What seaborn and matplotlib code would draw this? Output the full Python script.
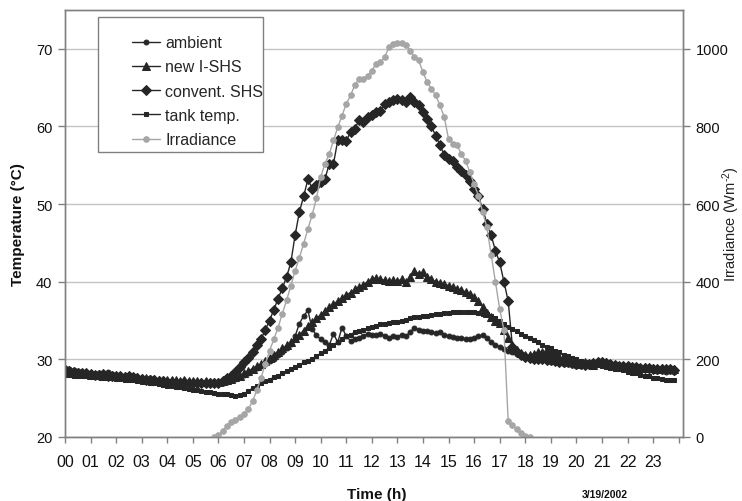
import numpy as np
import matplotlib
matplotlib.use("Agg")
import matplotlib.pyplot as plt
import seaborn as sns
from matplotlib.patches import Rectangle

nan = np.nan

# 10-minute time base (hours)
hours = np.arange(144) / 6.0

hour_labels = [f"{h:02d}" for h in range(24)]

ambient = [
    28.9, 28.8, 28.6, 28.5, 28.4, 28.3,
    28.2, 28.1, 28.2, 28.0, 28.4, 28.1,
    27.9, 27.9, 27.8, 27.9, 27.8, 27.7,
    27.6, 27.5, 27.6, 27.4, 27.3, 27.3,
    27.2, 27.2, 27.1, 27.1, 27.1, 27.0,
    27.0, 27.0, 26.9, 27.0, 26.9, 26.9,
    26.9, 27.0, 27.1, 27.3, 27.5, 27.7,
    28.0, 28.3, 28.6, 28.9, 29.2, 29.5,
    29.8, 30.1, 30.5, 30.9, 31.4, 32.0,
    33.0, 34.6, 35.6, 36.3, 33.9, 33.1,
    32.6, 32.2, 31.8, 33.3, 32.2, 34.1,
    33.0, 32.4, 32.6, 32.8, 33.0, 33.3,
    33.2, 33.1, 33.3, 33.0, 32.8, 33.0,
    32.9, 33.2, 33.0, 33.5, 34.1, 33.8,
    33.7, 33.6, 33.5, 33.4, 33.5, 33.2,
    33.0, 32.9, 32.7, 32.8, 32.6, 32.6,
    32.8, 33.0, 33.1, 32.7, 32.2, 31.9,
    31.6, 31.3, 31.1, 30.9, 30.7, 30.5,
    30.4, 30.2, 30.0, 29.9, 29.9, 29.8,
    29.7, 29.6, 29.5, 29.4, 29.4, 29.3,
    29.2, 29.2, 29.1, 29.2, 29.3, 29.4,
    29.5, 29.4, 29.3, 29.2, 29.0, 28.9,
    28.9, 28.8, 28.8, 28.7, 28.7, 28.6,
    28.6, 28.5, 28.5, 28.4, 28.5, 28.4,
]

new_ishs = [
    28.4, 28.3, 28.3, 28.2, 28.2, 28.1,
    28.0, 28.0, 28.1, 27.9, 28.0, 27.9,
    27.9, 27.8, 27.8, 27.9, 27.7, 27.7,
    27.6, 27.6, 27.5, 27.5, 27.4, 27.4,
    27.3, 27.3, 27.3, 27.2, 27.3, 27.2,
    27.2, 27.2, 27.1, 27.2, 27.1, 27.1,
    27.1, 27.2, 27.3, 27.5, 27.7, 27.9,
    28.2, 28.5, 28.8, 29.1, 29.4, 29.8,
    30.2, 30.6, 31.0, 31.4, 31.8, 32.3,
    32.7, 33.2, 33.7, 34.3, 34.8, 35.3,
    35.7, 36.2, 36.7, 37.1, 37.5, 37.9,
    38.3, 38.6, 39.0, 39.3, 39.6, 40.0,
    40.3, 40.5, 40.3, 40.2, 40.1, 40.2,
    40.1, 40.3, 40.0, 40.6, 41.4, 41.0,
    41.2, 40.6, 40.3, 40.0, 39.9, 39.7,
    39.5, 39.3, 39.1, 38.9, 38.7, 38.4,
    38.0, 37.5, 36.8, 36.0, 35.4, 35.0,
    34.7, 33.8, 32.8, 31.8, 31.2, 30.8,
    30.6, 30.5, 30.7, 30.9, 31.0, 31.1,
    30.9, 30.6, 30.3, 30.0, 29.8, 29.6,
    29.5, 29.4, 29.6, 29.4, 29.3, 29.5,
    29.7, 29.6, 29.4, 29.3, 29.2, 29.2,
    29.1, 29.0, 29.0, 28.9, 29.0, 28.9,
    28.9, 28.8, 28.9, 28.8, 28.7, 28.7,
]

convent_shs = [
    28.6, 28.5, 28.4, 28.3, 28.2, 28.2,
    28.1, 28.0, 28.0, 28.1, 27.9, 27.9,
    27.8, 27.8, 27.7, 27.9, 27.7, 27.6,
    27.5, 27.4, 27.4, 27.3, 27.2, 27.2,
    27.1, 27.1, 27.0, 27.0, 27.1, 27.0,
    26.9, 26.9, 27.0, 26.9, 27.0, 26.9,
    27.0, 27.2, 27.6, 27.9, 28.4, 29.0,
    29.6, 30.2, 30.9, 31.8, 32.6, 33.8,
    35.0, 36.4, 37.8, 39.2, 40.6, 42.5,
    46.0, 49.0, 51.0, 53.2, 52.0, 52.4,
    52.8, 53.2, 55.2, 55.2, 58.2, 58.2,
    58.1, 59.3, 59.7, 60.8, 60.6, 61.2,
    61.5, 61.8, 62.0, 62.9, 63.2, 63.4,
    63.6, 63.4, 63.1, 63.8, 63.2, 62.8,
    61.9, 61.0, 60.0, 58.8, 57.6, 56.3,
    55.8, 55.5, 54.8, 54.2, 53.7, 53.0,
    52.0, 51.0, 49.4, 47.5, 46.0, 44.0,
    42.5, 40.0, 37.5, 31.6, 31.0, 30.6,
    30.3, 30.2, 30.1, 30.0, 30.0, 29.9,
    29.9, 29.8, 29.7, 29.6, 29.6, 29.5,
    29.4, 29.4, 29.3, 29.4, 29.5, 29.6,
    29.6, 29.5, 29.4, 29.3, 29.2, 29.1,
    29.1, 29.0, 29.0, 28.9, 28.9, 28.9,
    28.8, 28.8, 28.7, 28.7, 28.7, 28.6,
]

tank_temp = [
    28.0, 28.0, 27.9, 27.9, 27.9, 27.8,
    27.8, 27.8, 27.7, 27.7, 27.6, 27.6,
    27.5, 27.5, 27.4, 27.4, 27.3, 27.2,
    27.1, 27.1, 27.0, 26.9, 26.8, 26.7,
    26.6, 26.6, 26.5, 26.4, 26.3, 26.2,
    26.1, 26.0, 25.9, 25.8, 25.8, 25.7,
    25.6, 25.5, 25.5, 25.4, 25.3, 25.4,
    25.6, 25.9, 26.3, 26.6, 26.9, 27.2,
    27.4, 27.7, 27.9, 28.2, 28.5, 28.8,
    29.0, 29.3, 29.6, 29.8, 30.1, 30.4,
    30.8, 31.1, 31.5, 31.8, 32.2, 32.6,
    33.0, 33.2, 33.5, 33.7, 33.8, 34.0,
    34.2, 34.3, 34.5, 34.6, 34.7, 34.8,
    34.8, 34.9, 35.1, 35.3, 35.5, 35.5,
    35.6, 35.6, 35.7, 35.8, 35.9, 36.0,
    36.0, 36.1, 36.1, 36.1, 36.1, 36.1,
    36.1, 36.0, 35.9, 35.8, 35.6, 35.3,
    35.0, 34.6, 34.2, 33.9, 33.6, 33.3,
    33.0, 32.8, 32.5, 32.2, 31.9, 31.6,
    31.4, 31.1, 30.9, 30.6, 30.4, 30.2,
    30.0, 29.8, 29.6, 29.5, 29.4, 29.3,
    29.1, 29.0, 28.9, 28.8, 28.7, 28.6,
    28.4, 28.3, 28.2, 28.0, 27.9, 27.8,
    27.6, 27.6, 27.5, 27.4, 27.3, 27.3,
]

irradiance = [
    nan, nan, nan, nan, nan, nan,
    nan, nan, nan, nan, nan, nan,
    nan, nan, nan, nan, nan, nan,
    nan, nan, nan, nan, nan, nan,
    nan, nan, nan, nan, nan, nan,
    nan, nan, nan, nan, nan, 0,
    5, 15, 28, 38, 45, 52,
    60, 72, 92, 120, 152, 188,
    222, 252, 282, 318, 352, 390,
    428, 462, 498, 536, 572, 615,
    670, 704, 729, 764, 798, 828,
    858, 880, 906, 923, 923, 931,
    944, 961, 966, 978, 1004, 1013,
    1015, 1015, 1010, 995, 978, 970,
    940, 914, 897, 880, 854, 824,
    768, 755, 752, 729, 712, 682,
    652, 622, 580, 540, 470, 400,
    330, 275, 40, 30, 20, 10,
    3, 0, nan, nan, nan, nan,
    nan, nan, nan, nan, nan, nan,
    nan, nan, nan, nan, nan, nan,
    nan, nan, nan, nan, nan, nan,
    nan, nan, nan, nan, nan, nan,
    nan, nan, nan, nan, nan, nan,
]

temp_ticks = [20, 30, 40, 50, 60, 70]
irr_ticks = [0, 200, 400, 600, 800, 1000]

sns.set_style("white")
plt.rcParams['font.family'] = ['Liberation Sans', 'DejaVu Sans']
plt.rcParams['mathtext.default'] = 'regular'

DARK = '#262626'
GRAY = '#a6a6a6'
FRAME = '#808080'

fig = plt.figure(figsize=(7.42, 5.02), dpi=100)
ax = fig.add_axes([65 / 742, 1 - 438 / 502, 618 / 742, 427 / 502])
ax2 = ax.twinx()

sns.lineplot(x=hours, y=ambient, ax=ax, color=DARK, linewidth=1.0, marker='o',
             markersize=3.5, markeredgecolor=DARK, markerfacecolor=DARK,
             label='ambient', legend=False)
sns.lineplot(x=hours, y=new_ishs, ax=ax, color=DARK, linewidth=1.0, marker='^',
             markersize=6, markeredgecolor=DARK, markerfacecolor=DARK,
             label='new I-SHS', legend=False)
sns.lineplot(x=hours, y=convent_shs, ax=ax, color=DARK, linewidth=1.0, marker='D',
             markersize=5, markeredgecolor=DARK, markerfacecolor=DARK,
             label='convent. SHS', legend=False)
sns.lineplot(x=hours, y=tank_temp, ax=ax, color=DARK, linewidth=1.0, marker='s',
             markersize=2.5, markeredgecolor=DARK, markerfacecolor=DARK,
             label='tank temp.', legend=False)
sns.lineplot(x=hours, y=irradiance, ax=ax2, color=GRAY, linewidth=1.0, marker='o',
             markersize=4, markeredgecolor=GRAY, markerfacecolor=GRAY,
             label='Irradiance', legend=False)

ax.set_xlim(0, 24.17)
ax.set_ylim(20, 75)
ax2.set_ylim(0, 1100)

ax.set_xticks(range(25))
ax.set_xticklabels(hour_labels + [''])
ax.set_yticks(temp_ticks)
ax2.set_yticks(irr_ticks)

ax.grid(axis='y', color='#c4c4c4', linewidth=1.0)
ax.grid(axis='x', visible=False)
ax2.grid(False)

for a in (ax, ax2):
    for s in a.spines.values():
        s.set_color(FRAME)
        s.set_linewidth(1.0)

ax.tick_params(axis='x', bottom=True, direction='out', length=4, width=1,
               color=FRAME, labelsize=11.5, pad=8, labelcolor='#111111')
ax.tick_params(axis='y', left=True, direction='out', length=5, width=1,
               color=FRAME, labelsize=10.5, pad=4, labelcolor='#111111')
ax2.tick_params(axis='y', right=True, direction='out', length=5, width=1,
                color=FRAME, labelsize=10.5, pad=4, labelcolor='#111111')

ax.set_ylabel('Temperature (°C)', fontsize=11, fontweight='bold', color='#111111')
ax.yaxis.set_label_coords(-0.064, 0.5)
ax2.set_ylabel('Irradiance (Wm$^{\u2010 2}$)', fontsize=10.5, color='#222222')
ax2.yaxis.set_label_coords(1.061, 0.5)
ax.set_xlabel('Time (h)', fontsize=11, fontweight='bold', color='#111111')
ax.xaxis.set_label_coords(0.505, -0.118)

fig.text(605 / 742, 1 - 495 / 502, '3/19/2002', fontsize=7.5, fontweight='bold',
         ha='center', va='center', color='#111111')

# legend
h1, l1 = ax.get_legend_handles_labels()
h2, l2 = ax2.get_legend_handles_labels()
ax2.add_patch(Rectangle((0.053, 0.667), 0.267, 0.317, transform=ax2.transAxes,
                        facecolor='white', edgecolor=FRAME, linewidth=1.0,
                        zorder=4))
leg = ax2.legend(h1 + h2, l1 + l2, loc='upper left', bbox_to_anchor=(0.108, 0.941),
                 frameon=False, fontsize=11.5, handlelength=1.8, handletextpad=0.3,
                 labelspacing=0.58, borderpad=0, borderaxespad=0)
leg.set_zorder(5)

fig.savefig('out.png', dpi=100, facecolor='white')
